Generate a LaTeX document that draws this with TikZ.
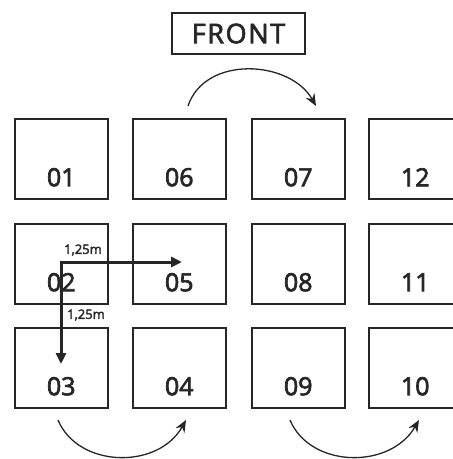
\documentclass[tikz,border=0pt]{standalone}
\usepackage{fontspec}
\setmainfont{Open Sans}
\usetikzlibrary{arrows.meta}
\definecolor{ink}{HTML}{262626}
\newcommand{\heavytext}[2]{\special{pdf:literal direct 2 Tr #1 w}#2\special{pdf:literal direct 0 Tr}}
\tikzset{
  seat/.style={draw=ink,line width=1.5pt,minimum width=93pt,minimum height=80pt,inner sep=0pt,anchor=north west},
  num/.style={text=ink,font=\fontsize{25}{25}\selectfont,inner sep=0pt},
  front/.style={draw=ink,line width=1.5pt,minimum width=133pt,minimum height=41pt,inner sep=0pt,text=ink,font=\addfontfeature{LetterSpace=6}\fontsize{27}{27}\selectfont},
  dim/.style={text=ink,font=\fontsize{13}{13}\selectfont,inner sep=0pt},
  turn/.style={draw=ink,line width=1.3pt,-{Stealth[length=12pt,width=10pt]}},
  move/.style={draw=ink,line width=3pt,-{Stealth[length=11pt,width=10pt,inset=0pt]}}
}
\begin{document}
\begin{tikzpicture}[x=1pt,y=-1pt]
\clip (0,0) rectangle (453,459);
\node[front] (front) at (238.5,33.5) {\heavytext{0.7}{FRONT}};
% row 1
\node[seat] (b01) at (14,118) {};
\node[seat] (b06) at (132,118) {};
\node[seat] (b07) at (251,118) {};
\node[seat] (b12) at (368,118) {};
% row 2
\node[seat] (b02) at (14,223) {};
\node[seat] (b05) at (132,223) {};
\node[seat] (b08) at (251,223) {};
\node[seat] (b11) at (368,223) {};
% row 3
\node[seat] (b03) at (14,327) {};
\node[seat] (b04) at (132,327) {};
\node[seat] (b09) at (251,327) {};
\node[seat] (b10) at (368,327) {};
% numbers
\foreach \b in {01,06,07,12,02,05,08,11,03,04,09,10}{
  \node[num] (n\b) at ([yshift=-18.5pt]b\b.center) {\heavytext{0.7}{\b}};
}
% turning arrows
\coordinate (t0) at (188,106);
\coordinate (t1) at (316,106);
\draw[turn] (t0) .. controls (205,55) and (290,60) .. (t1);
\coordinate (u0) at (58,420);
\coordinate (u1) at (186,420);
\draw[turn] (u0) .. controls (78,468) and (158,470) .. (u1);
\coordinate (v0) at (290,420);
\coordinate (v1) at (419,420);
\draw[turn] (v0) .. controls (310,468) and (390,470) .. (v1);
% spacing arrows
\coordinate (o) at (61,262);
\coordinate (oe) at (182,262);
\coordinate (os) at (61,364);
\draw[move] ([xshift=-1.5pt]o) -- (oe);
\draw[move] (o) -- (os);
\node[dim] (d1) at (83,250) {\heavytext{0.35}{1,25m}};
\node[dim] (d2) at (86,315) {\heavytext{0.35}{1,25m}};
\end{tikzpicture}
\end{document}
